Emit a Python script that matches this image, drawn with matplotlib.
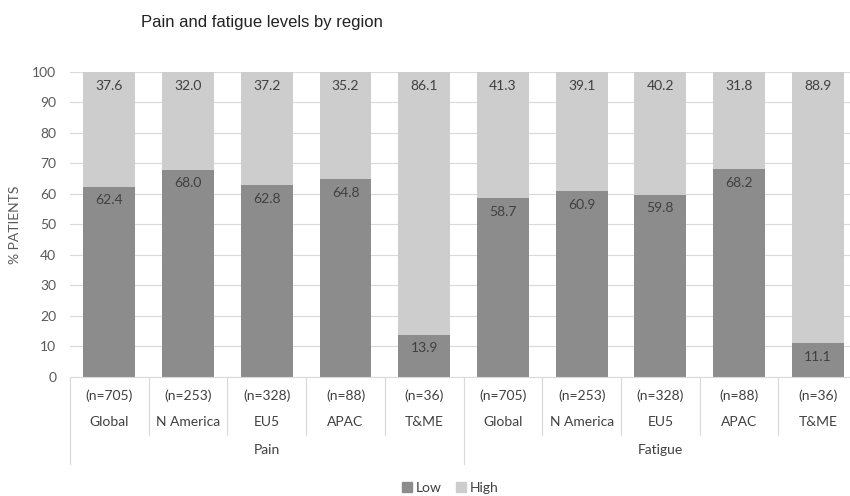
import matplotlib.pyplot as plt
from matplotlib.patches import Patch

groups = ["Pain", "Fatigue"]
regions = ["Global", "N America", "EU5", "APAC", "T&ME"]
counts = ["(n=705)", "(n=253)", "(n=328)", "(n=88)", "(n=36)"]
low_pain = [62.4, 68.0, 62.8, 64.8, 13.9]
high_pain = [37.6, 32.0, 37.2, 35.2, 86.1]
low_fatigue = [58.7, 60.9, 59.8, 68.2, 11.1]
high_fatigue = [41.3, 39.1, 40.2, 31.8, 88.9]

LOW_C = "#8c8c8c"
HIGH_C = "#cdcdcd"
TXT = "#404040"
GRID = "#d9d9d9"

plt.rcParams['font.family'] = ['Lato', 'DejaVu Sans']

fig = plt.figure(figsize=(8.5, 4.96), dpi=100)
ax = fig.add_axes([0.0824, 0.240, 0.926, 0.615])

low = low_pain + low_fatigue
high = high_pain + high_fatigue
x = list(range(len(low)))

ax.bar(x, low, width=0.66, color=LOW_C, zorder=2)
ax.bar(x, high, width=0.66, bottom=low, color=HIGH_C, zorder=2)

for i in x:
    ax.text(i, low[i] - 4.5, f"{low[i]:.1f}", ha='center', va='center',
            fontsize=10, color=TXT)
    ax.text(i, 100 - 4.5, f"{high[i]:.1f}", ha='center', va='center',
            fontsize=10, color=TXT)

ax.set_xlim(-0.5, len(x) - 0.5)
ax.set_ylim(0, 100)
ax.set_yticks(range(0, 101, 10))
ax.tick_params(axis='y', length=0, labelsize=10, labelcolor="#595959", pad=10)
ax.set_xticks([])
ax.yaxis.grid(True, color=GRID, linewidth=0.8, zorder=0)
for s in ['top', 'right', 'left']:
    ax.spines[s].set_visible(False)
ax.spines['bottom'].set_color(GRID)

ax.set_ylabel("% PATIENTS", fontsize=10, color="#595959", labelpad=8)

# hierarchical category axis
trans = ax.get_xaxis_transform()
names = regions + regions
ns = counts + counts
for i in x:
    ax.text(i, -0.063, ns[i], transform=trans, ha='center', va='center',
            fontsize=10, color=TXT)
    ax.text(i, -0.148, names[i], transform=trans, ha='center', va='center',
            fontsize=10, color=TXT)
for j, g in enumerate(groups):
    ax.text(j * 5 + 2, -0.24, g, transform=trans, ha='center', va='center',
            fontsize=10, color=TXT)

for k in range(len(x) + 1):
    xs = k - 0.5
    y_end = -0.285 if k % 5 == 0 else -0.19
    ax.plot([xs, xs], [0, y_end], transform=trans, color=GRID,
            linewidth=0.8, clip_on=False)

fig.text(0.0824 + 0.083, 0.955, "Pain and fatigue levels by region",
         fontsize=12, family='Liberation Sans', color="#222222",
         ha='left', va='center')

handles = [Patch(color=LOW_C, label="Low"), Patch(color=HIGH_C, label="High")]
fig.legend(handles=handles, loc='center', bbox_to_anchor=(0.53, 0.017),
           ncol=2, frameon=False, fontsize=10, handlelength=0.7,
           handleheight=0.7, handletextpad=0.3, columnspacing=1.0,
           labelcolor=TXT)

fig.savefig("out.png", dpi=100)
